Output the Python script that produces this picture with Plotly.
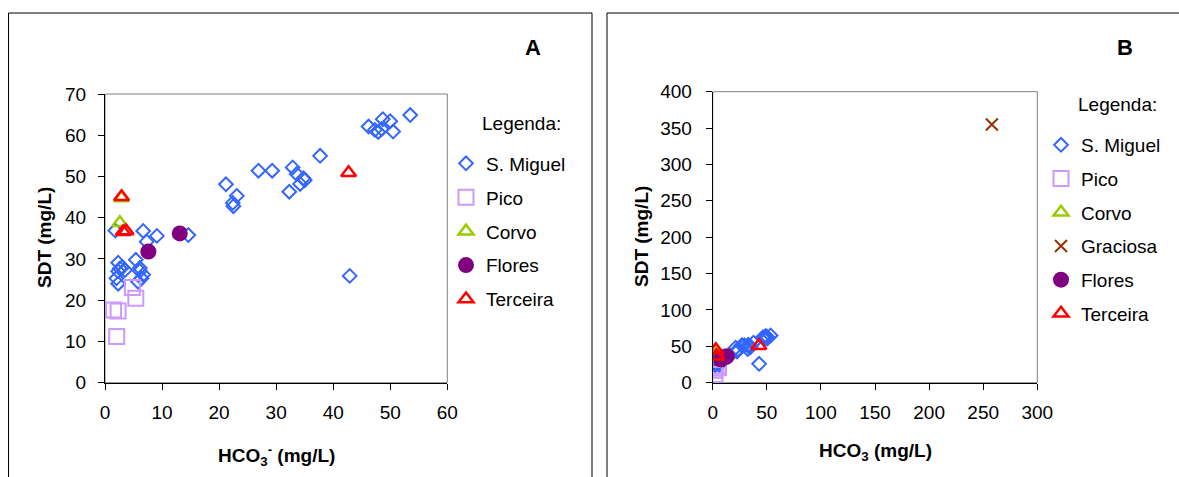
import plotly.graph_objects as go

# ---------------- data ----------------
sm_x = [53.5, 46.2, 48.7, 50.0, 47.3, 47.9, 50.5, 48.5, 37.7, 32.9, 33.6, 34.8, 34.2, 32.3,
        35.0, 26.9, 29.3, 21.2, 23.1, 22.5, 22.4, 14.6, 9.1, 6.7, 7.3, 1.8, 42.9, 2.3, 2.3,
        2.6, 3.5, 2.0, 2.3, 5.4, 6.1, 6.7, 5.8, 6.4, 6.1, 3.0]
sm_y = [64.9, 62.1, 63.9, 63.4, 61.3, 60.8, 60.9, 61.5, 55.0, 52.2, 50.6, 49.6, 48.2, 46.3,
        49.1, 51.4, 51.4, 48.1, 45.3, 42.8, 43.6, 35.8, 35.6, 36.8, 34.2, 36.9, 25.9, 29.1, 27.0,
        27.7, 27.3, 25.3, 24.0, 29.8, 27.1, 26.2, 24.5, 25.3, 27.8, 28.0]
pico_x = [4.8, 5.4, 2.3, 1.5, 2.05]
pico_y = [23.1, 20.5, 17.4, 17.6, 11.2]
corvo_x = [2.9, 2.6]
corvo_y = [44.8, 38.8]
graciosa_x = [258]
graciosa_y = [355]
flores_x = [7.6, 13.1]
flores_y = [31.8, 36.2]
terceira_x = [2.9, 3.2, 3.7, 42.7]
terceira_y = [45.1, 36.6, 36.8, 50.9]

ticks_a_x = [0, 10, 20, 30, 40, 50, 60]
ticks_a_y = [0, 10, 20, 30, 40, 50, 60, 70]
ticks_b_x = [0, 50, 100, 150, 200, 250, 300]
ticks_b_y = [0, 50, 100, 150, 200, 250, 300, 350, 400]

W, H = 1179, 477
FONT = "Liberation Sans, Arial, sans-serif"
FS = 19


def px(x):
    return x / W


def py(y):
    return 1 - y / H


series = [
    ("S. Miguel", sm_x, sm_y, dict(symbol="diamond-open", size=10.5, color="#3366FF", line=dict(width=2, color="#3366FF"))),
    ("Pico", pico_x, pico_y, dict(symbol="square-open", size=15, color="#CC99FF", line=dict(width=2, color="#CC99FF"))),
    ("Corvo", corvo_x, corvo_y, dict(symbol="triangle-up-open", size=13, color="#99CC00", line=dict(width=2.5, color="#99CC00"))),
    ("Graciosa", graciosa_x, graciosa_y, dict(symbol="x-thin-open", size=12, color="#993300", line=dict(width=2, color="#993300"))),
    ("Flores", flores_x, flores_y, dict(symbol="circle", size=16, color="#800080", line=dict(width=0))),
    ("Terceira", terceira_x, terceira_y, dict(symbol="triangle-up-open", size=13, color="#FF0000", line=dict(width=2.5, color="#FF0000"))),
]

fig = go.Figure()
for name, xs, ys, mk in series:
    if name != "Graciosa":
        fig.add_trace(go.Scatter(x=xs, y=ys, mode="markers", name=name, marker=mk,
                                 xaxis="x", yaxis="y", legend="legend", legendgroup="a_" + name))
for name, xs, ys, mk in series:
    fig.add_trace(go.Scatter(x=xs, y=ys, mode="markers", name=name, marker=mk,
                             xaxis="x2", yaxis="y2", legend="legend2", legendgroup="b_" + name))

axis_common = dict(showgrid=False, zeroline=False, showline=True, linecolor="black", linewidth=1,
                   ticks="outside", ticklen=6, tickcolor="black", tickwidth=1, automargin=False,
                   tickfont=dict(family=FONT, size=FS, color="black"), fixedrange=True)

fig.update_layout(
    width=W, height=H,
    margin=dict(l=0, r=0, t=0, b=0, pad=0, autoexpand=False),
    paper_bgcolor="white", plot_bgcolor="white",
    font=dict(family=FONT, size=FS, color="black"),
    xaxis=dict(domain=[px(105), px(447.3)], range=[0, 60], tickvals=ticks_a_x, anchor="y",
               ticklabelstandoff=6, **axis_common),
    yaxis=dict(domain=[py(382.7), py(94)], range=[0, 70], tickvals=ticks_a_y, anchor="x",
               ticklabelstandoff=8, **axis_common),
    xaxis2=dict(domain=[px(712.7), px(1037.3)], range=[0, 300], tickvals=ticks_b_x, anchor="y2",
                ticklabelstandoff=6, **axis_common),
    yaxis2=dict(domain=[py(382.7), py(91.7)], range=[0, 400], tickvals=ticks_b_y, anchor="x2",
                ticklabelstandoff=10, **axis_common),
    legend=dict(x=px(446), y=py(144.5), xanchor="left", yanchor="top", bgcolor="rgba(0,0,0,0)",
                font=dict(family=FONT, size=FS, color="black"), tracegroupgap=6.2, itemclick=False),
    legend2=dict(x=px(1041), y=py(126), xanchor="left", yanchor="top", bgcolor="rgba(0,0,0,0)",
                 font=dict(family=FONT, size=FS, color="black"), tracegroupgap=6, itemclick=False),
    showlegend=True,
)

shapes = [
    # outer frames
    dict(type="rect", xref="paper", yref="paper", x0=px(8.5), x1=px(592), y0=py(490), y1=py(13),
         line=dict(color="black", width=1), layer="below"),
    dict(type="rect", xref="paper", yref="paper", x0=px(607), x1=px(1190), y0=py(490), y1=py(13),
         line=dict(color="black", width=1), layer="below"),
    # plot area borders
    dict(type="rect", xref="x domain", yref="y domain", x0=0, x1=1, y0=0, y1=1,
         line=dict(color="#808080", width=1), layer="below"),
    dict(type="rect", xref="x2 domain", yref="y2 domain", x0=0, x1=1, y0=0, y1=1,
         line=dict(color="#808080", width=1), layer="below"),
]
fig.update_layout(shapes=shapes)

ann = [
    dict(text="<b>A</b>", x=px(533), y=py(48), size=22),
    dict(text="<b>B</b>", x=px(1125), y=py(48), size=22),
    dict(text="Legenda:", x=px(521), y=py(124), size=FS),
    dict(text="Legenda:", x=px(1117), y=py(104), size=FS),
    dict(text="<b>HCO<sub>3</sub><sup>-</sup> (mg/L)</b>", x=px(276), y=py(455), size=FS),
    dict(text="<b>HCO<sub>3</sub> (mg/L)</b>", x=px(875), y=py(452), size=FS),
]
annotations = []
for a in ann:
    annotations.append(dict(text=a["text"], x=a["x"], y=a["y"], xref="paper", yref="paper",
                            xanchor="center", yanchor="middle", showarrow=False,
                            font=dict(family=FONT, size=a["size"], color="black")))
annotations.append(dict(text="<b>SDT (mg/L)</b>", x=px(44), y=py(238), xref="paper", yref="paper",
                        textangle=-90, xanchor="center", yanchor="middle", showarrow=False,
                        font=dict(family=FONT, size=FS, color="black")))
annotations.append(dict(text="<b>SDT (mg/L)</b>", x=px(641), y=py(237), xref="paper", yref="paper",
                        textangle=-90, xanchor="center", yanchor="middle", showarrow=False,
                        font=dict(family=FONT, size=FS, color="black")))
fig.update_layout(annotations=annotations)

fig.write_html("out.html", config={"displayModeBar": False},
               post_script="document.body.style.margin='0px';document.body.style.overflow='hidden';")
